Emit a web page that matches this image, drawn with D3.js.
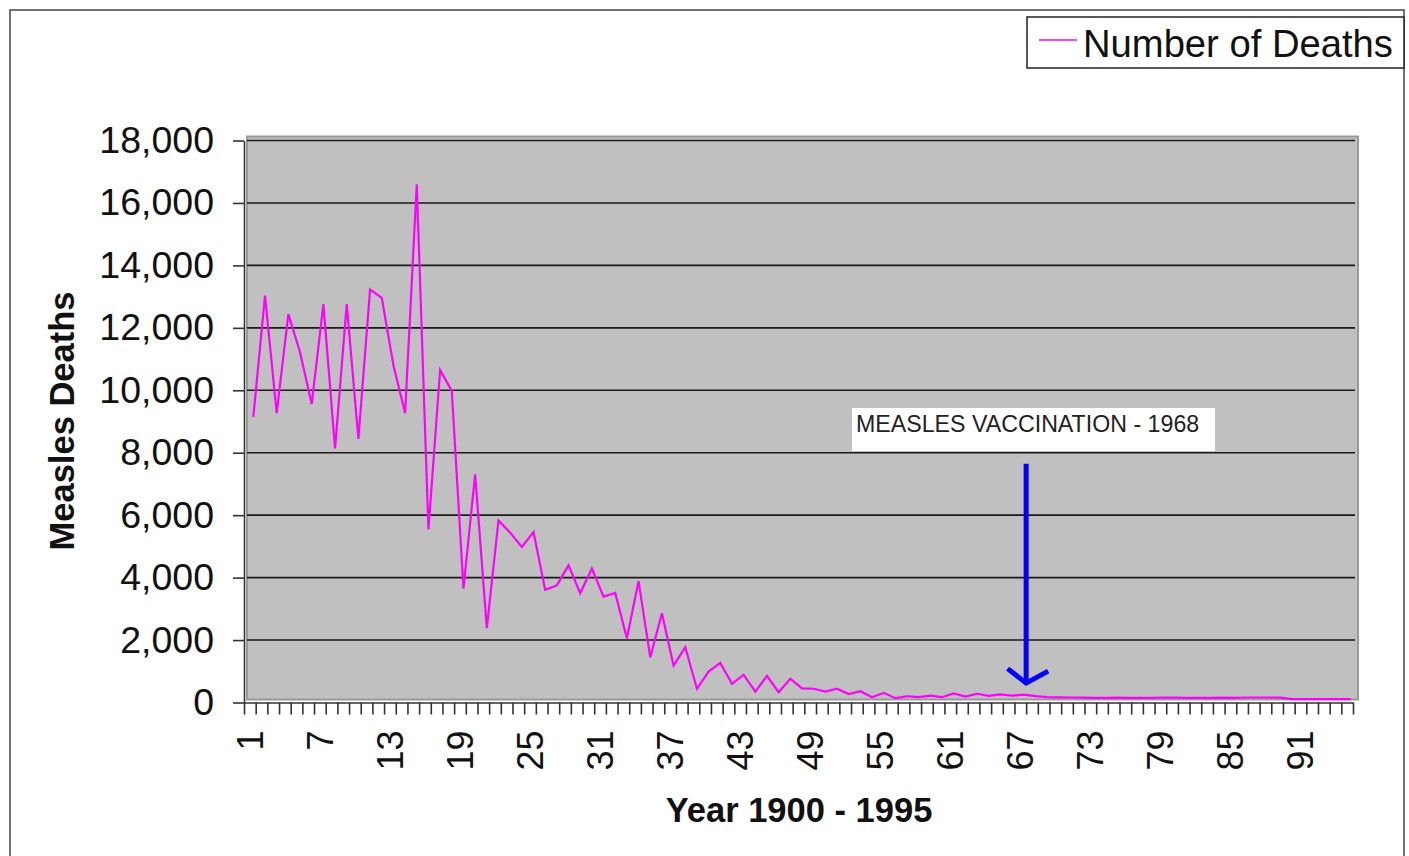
<!DOCTYPE html>
<html>
<head>
<meta charset="utf-8">
<script src="https://cdn.jsdelivr.net/npm/d3@7"></script>
<style>
  body { margin: 0; background: #fff; }
  svg { display: block; font-family: "Liberation Sans", Arial, sans-serif; }
</style>
</head>
<body>
<div id="chart"></div>
<script>
// Year index 1..95 (1900 - 1995)
const years = d3.range(1, 96);

// Measles deaths per year
const deaths = [
  9150, 13030, 9270, 12440, 11220, 9560, 12760, 8140, 12760, 8440,
  13230, 12960, 10800, 9270, 16600, 5540, 10650, 9980, 3650, 7310,
  2380, 5830, 5440, 4980, 5460, 3610, 3750, 4400, 3500, 4290,
  3390, 3510, 2060, 3890, 1450, 2860, 1180, 1770, 440, 990,
  1270, 600, 890, 350, 850, 330, 760, 450, 440, 350,
  440, 270, 360, 170, 310, 140, 200, 170, 220, 170,
  290, 190, 280, 210, 260, 220, 250, 205, 175, 165,
  160, 155, 150, 150, 155, 150, 150, 150, 160, 155,
  150, 150, 150, 155, 150, 160, 160, 160, 155, 110,
  110, 105, 105, 105, 105
];

const yTicks = d3.range(0, 18001, 2000);
const xLabels = years.filter(k => (k - 1) % 6 === 0);

const seriesName = "Number of Deaths";
const yTitle = "Measles Deaths";
const xTitle = "Year 1900 - 1995";

// vaccination annotation (category edge, top and tip values)
const noteText = "MEASLES VACCINATION - 1968";
const arrowAt = 67;
const arrowTop = 7650;
const arrowTip = 620;

const W = 1409, H = 856;
const plotL = 244, plotR = 1353, plotT = 140.5, plotB = 702.5;

const svg = d3.select("#chart").append("svg")
    .attr("width", W)
    .attr("height", H);

// outer chart frame (bottom edge runs off the picture)
svg.append("rect")
    .attr("x", 10).attr("y", 10)
    .attr("width", 1394).attr("height", 900)
    .attr("fill", "#fff")
    .attr("stroke", "#444")
    .attr("stroke-width", 1.5);

// scales
const x = d3.scaleBand().domain(years).range([plotL, plotR]).padding(0);
const xEdge = d3.scaleLinear().domain([0, years.length]).range([plotL, plotR]);
const y = d3.scaleLinear().domain([0, 18000]).range([plotB, plotT]);

// plot area
svg.append("rect")
    .attr("x", plotL + 3).attr("y", plotT - 4)
    .attr("width", plotR - plotL + 2).attr("height", plotB - plotT + 1)
    .attr("fill", "#c0c0c0")
    .attr("stroke", "#9a9a9a")
    .attr("stroke-width", 2);

// gridlines
svg.append("g")
    .selectAll("line")
    .data(yTicks.filter(d => d > 0))
    .enter()
    .append("line")
    .attr("x1", plotL + 3).attr("x2", plotR + 2)
    .attr("y1", d => y(d)).attr("y2", d => y(d))
    .attr("stroke", "#1a1a1a")
    .attr("stroke-width", 1.6);

// y axis
const yAxis = svg.append("g")
    .attr("transform", "translate(" + plotL + ",0)")
    .call(d3.axisLeft(y)
        .tickValues(yTicks)
        .tickFormat(d3.format(","))
        .tickSize(11)
        .tickSizeOuter(0)
        .tickPadding(19));
yAxis.selectAll("text")
    .attr("font-size", 37.5)
    .attr("font-family", "Liberation Sans, Arial, sans-serif")
    .attr("fill", "#111");

// x axis: ticks on category edges
const xTickAxis = svg.append("g")
    .attr("transform", "translate(0," + plotB + ")")
    .call(d3.axisBottom(xEdge)
        .tickValues(d3.range(0, years.length + 1))
        .tickFormat("")
        .tickSize(12)
        .tickSizeOuter(0));

// x axis labels at category centres, rotated
const xLabelAxis = svg.append("g")
    .attr("transform", "translate(0," + plotB + ")")
    .call(d3.axisBottom(x).tickValues(xLabels).tickSize(0));
xLabelAxis.select(".domain").remove();
xLabelAxis.selectAll("text")
    .attr("transform", "rotate(-90)")
    .attr("x", -28)
    .attr("y", 0)
    .attr("dy", "0.36em")
    .attr("text-anchor", "end")
    .attr("font-size", 36)
    .attr("font-family", "Liberation Sans, Arial, sans-serif")
    .attr("fill", "#111");

[yAxis, xTickAxis].forEach(function(g) {
    g.selectAll("line, path").attr("stroke", "#333").attr("stroke-width", 1.6);
});

// the series line
const line = d3.line()
    .x(function(d, i) { return x(years[i]) + x.bandwidth() * 0.8; })
    .y(function(d) { return y(d); });

svg.append("path")
    .datum(deaths)
    .attr("d", line)
    .attr("fill", "none")
    .attr("stroke", "#ff00ff")
    .attr("stroke-width", 2.2)
    .attr("stroke-linejoin", "miter");

// axis titles
svg.append("text")
    .attr("transform", "translate(74,421) rotate(-90)")
    .attr("text-anchor", "middle")
    .attr("font-size", 34.5)
    .attr("font-weight", "bold")
    .attr("fill", "#111")
    .text(yTitle);

svg.append("text")
    .attr("x", 799).attr("y", 822)
    .attr("text-anchor", "middle")
    .attr("font-size", 34.5)
    .attr("font-weight", "bold")
    .attr("fill", "#111")
    .text(xTitle);

// annotation box and arrow
svg.append("rect")
    .attr("x", 852).attr("y", 408)
    .attr("width", 363).attr("height", 43)
    .attr("fill", "#fff");
svg.append("text")
    .attr("x", 856).attr("y", 432)
    .attr("font-size", 23.2)
    .attr("fill", "#222")
    .text(noteText);

const ax = xEdge(arrowAt);
const tipY = y(arrowTip);
svg.append("line")
    .attr("x1", ax).attr("x2", ax)
    .attr("y1", y(arrowTop)).attr("y2", tipY)
    .attr("stroke", "#0000ff")
    .attr("stroke-width", 5);
svg.append("path")
    .attr("d", "M" + (ax - 18.5) + "," + (tipY - 14.5) +
               "L" + ax + "," + tipY +
               "L" + (ax + 22) + "," + (tipY - 12))
    .attr("fill", "none")
    .attr("stroke", "#0000ff")
    .attr("stroke-width", 5);

// legend
const legend = svg.append("g");
legend.append("rect")
    .attr("x", 1027).attr("y", 17)
    .attr("width", 377).attr("height", 51)
    .attr("fill", "#fff")
    .attr("stroke", "#222")
    .attr("stroke-width", 1.5);
legend.append("line")
    .attr("x1", 1039).attr("x2", 1077)
    .attr("y1", 40).attr("y2", 40)
    .attr("stroke", "#ff00ff")
    .attr("stroke-width", 1.5);
legend.append("text")
    .attr("x", 1083).attr("y", 57)
    .attr("font-size", 38.2)
    .attr("fill", "#111")
    .text(seriesName);
</script>
</body>
</html>
